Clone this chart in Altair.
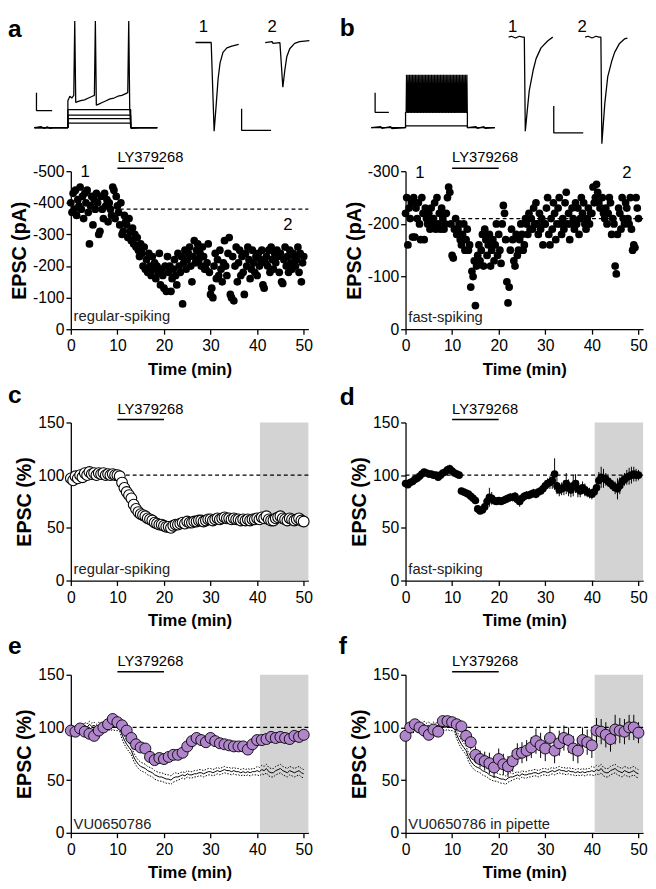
import altair as alt
import pandas as pd

FONT = "Liberation Sans"
W = 242
H = 161
HT = 125
PURPLE = "#B185CB"
BAND = "#d3d3d3"

# ---------------- scatter data (EPSC amplitude, pA) ----------------
STEP_RAW = 0.25  # min between raw sweeps shown
a_vals = [
    -400, -370, -430, -380, -440, -360, -410, -390, -450, -380, -420, -350,
    -430, -400, -440, -370, -270, -390, -420, -330, -410, -380, -430, -400,
    -300, -310, -420, -380, -350, -430, -390, -410, -340, -400, -380, -360,
    -450, -440, -350, -420, -390, -370, -330, -400, -300, -310, -360, -340,
    -330, -290, -350, -310, -280, -320, -270, -300, -260, -290, -250, -230,
    -270, -240, -200, -260, -190, -220, -180, -240, -200, -170, -230, -190,
    -210, -160, -200, -180, -240, -140, -190, -170, -130, -200, -120, -230,
    -180, -200, -120, -160, -190, -220, -170, -140, -240, -200, -180, -230,
    -80, -210, -250, -190, -220, -240, -260, -200, -150, -230, -280, -210,
    -250, -270, -220, -240, -200, -260, -230, -190, -190, -210, -270, -180,
    -110, -130, -100, -200, -240, -160, -220, -170, -250, -190, -150, -210,
    -280, -200, -170, -240, -290, -110, -100, -230, -90, -200, -260, -150,
    -210, -250, -170, -230, -180, -110, -240, -200, -260, -220, -160, -190,
    -250, -210, -180, -230, -170, -240, -200, -220, -250, -140, -130, -210,
    -230, -200, -250, -180, -260, -220, -190, -240, -210, -250, -230, -180,
    -240, -150, -145, -220, -260, -200, -230, -180, -250, -210, -190, -240,
    -230, -200, -220, -260, -180, -240, -150, -210, -230,
]
b_vals = [
    -220, -250, -160, -230, -210, -240, -175, -250, -175, -230, -210, -240,
    -200, -170, -250, -220, -170, -230, -210, -200, -220, -190, -230, -200,
    -210, -240, -190, -250, -200, -220, -190, -230, -210, -190, -200, -220,
    -250, -270, -260, -200, -140, -135, -190, -210, -180, -190, -200, -170,
    -160, -180, -200, -150, -170, -190, -150, -160, -80, -110, -100, -130,
    -45, -120, -140, -160, -130, -150, -180, -120, -190, -170, -140, -160,
    -180, -120, -150, -170, -130, -160, -200, -140, -180, -150, -125, -200,
    -235, -220, -170, -90, -50, -80, -150, -190, -170, -130, -120, -180,
    -140, -150, -170, -200, -180, -150, -160, -210, -200, -180, -220, -190,
    -210, -190, -230, -200, -240, -200, -180, -220, -190, -210, -160, -200,
    -200, -230, -250, -180, -160, -210, -190, -240, -220, -170, -200, -230,
    -250, -200, -180, -210, -190, -240, -260, -200, -220, -170, -200, -230,
    -210, -190, -240, -200, -230, -180, -210, -250, -220, -240, -200, -190,
    -210, -230, -200, -220, -220, -270, -240, -250, -275, -260, -240, -230,
    -230, -250, -220, -210, -230, -200, -220, -250, -240, -180, -210, -200,
    -120, -105, -180, -230, -220, -190, -250, -210, -200, -240, -230, -210,
    -200, -250, -190, -150, -160, -155, -250, -230, -210,
]

# ---------------- averaged data (% of baseline) ----------------
STEP_AVG = 0.5
c_vals = [97, 95, 99, 97, 100, 98, 102, 100, 103, 101,
          102, 100, 102, 101, 102, 100, 101, 100, 101, 100,
          100, 99, 93, 88, 84, 81, 78, 72, 68, 65,
          63, 62, 61, 59, 58, 57, 55, 54, 53, 53,
          52, 51, 51, 50, 52, 53, 53, 54, 55, 54,
          56, 55, 55, 56, 56, 57, 57, 56, 57, 58,
          58, 57, 58, 59, 58, 59, 60, 59, 59, 58,
          59, 58, 58, 57, 58, 57, 58, 57, 58, 58,
          59, 58, 60, 59, 61, 58, 57, 57, 59, 60,
          61, 59, 58, 57, 59, 58, 57, 58, 59, 57,
          56]
ctrl_sem = [3, 3, 3, 3, 3, 3, 3, 3, 3, 3,
            3, 3, 3, 3, 3, 3, 3, 3, 3, 3,
            3, 3, 4, 4, 4, 4, 4, 4, 4, 4,
            4, 4, 4, 4, 4, 4, 4, 4, 4, 4,
            4, 4, 4, 4, 4, 4, 3, 3, 3, 3,
            3, 3, 3, 3, 3, 3, 3, 3, 3, 3,
            3, 3, 3, 3, 3, 3, 3, 3, 3, 3,
            3, 3, 3, 3, 3, 3, 3, 3, 3, 3,
            4, 4, 4, 4, 4, 4, 4, 4, 4, 4,
            4, 4, 4, 4, 4, 4, 4, 4, 4, 4,
            4]
d_vals = [92, 91, 93, 94, 96, 97, 99, 101, 103, 102,
          101, 101, 100, 100, 98, 100, 102, 103, 105, 106,
          104, 102, 101, 100, 85, 84, 83, 82, 80, 78,
          76, 68, 66, 67, 70, 75, 79, 78, 76, 75,
          76, 75, 76, 77, 78, 79, 79, 80, 77, 75,
          78, 80, 81, 81, 82, 83, 82, 84, 85, 87,
          90, 92, 93, 95, 101, 90, 86, 87, 88, 92,
          88, 86, 90, 92, 87, 85, 88, 86, 84, 83,
          82, 84, 88, 95, 98, 97, 96, 94, 92, 90,
          88, 87, 90, 94, 96, 98, 99, 100, 101, 100,
          100]
d_err = [2, 2, 2, 2, 3, 3, 3, 3, 3, 3,
         3, 3, 3, 3, 3, 3, 3, 3, 4, 4,
         3, 3, 3, 3, 3, 3, 3, 3, 3, 3,
         3, 3, 3, 4, 5, 6, 9, 6, 4, 3,
         3, 3, 3, 3, 3, 4, 4, 4, 5, 5,
         4, 4, 4, 4, 4, 4, 4, 4, 4, 5,
         5, 5, 6, 8, 15, 8, 6, 6, 7, 10,
         8, 7, 10, 9, 8, 6, 6, 6, 5, 5,
         5, 5, 6, 8, 10, 9, 6, 5, 5, 5,
         6, 10, 8, 6, 6, 7, 8, 8, 7, 6,
         5]
STEP_MIN = 1.0
e_vals = [97, 96, 99, 96, 94, 92, 97, 100, 103, 108,
          105, 102, 97, 90, 84, 81, 80, 72, 69, 71,
          70, 72, 74, 74, 76, 82, 87, 90, 88, 86,
          90, 87, 85, 84, 83, 82, 82, 82, 79, 84,
          88, 88, 89, 91, 90, 91, 90, 89, 92, 91,
          93]
e_err = [3, 3, 3, 3, 3, 3, 3, 4, 4, 5,
         5, 5, 4, 4, 4, 4, 5, 5, 4, 4,
         4, 4, 4, 4, 4, 5, 5, 5, 5, 4,
         5, 4, 4, 4, 4, 4, 4, 4, 4, 4,
         4, 5, 4, 4, 4, 5, 4, 4, 5, 5,
         4]
f_vals = [92, 100, 103, 100, 97, 93, 98, 96, 106, 106,
          105, 103, 101, 92, 86, 74, 70, 68, 66, 62,
          70, 65, 63, 68, 75, 76, 78, 81, 87, 83,
          80, 90, 78, 85, 90, 88, 80, 78, 88, 86,
          83, 97, 96, 93, 89, 98, 97, 96, 100, 100,
          95]
f_err = [5, 5, 5, 5, 5, 5, 5, 5, 5, 5,
         5, 5, 5, 6, 7, 8, 8, 9, 10, 10,
         10, 10, 10, 10, 10, 10, 10, 10, 12, 12,
         12, 12, 12, 12, 12, 12, 12, 12, 12, 12,
         12, 12, 12, 12, 12, 14, 12, 12, 12, 12,
         10]

# ---------------- example traces (trace units) ----------------
a_step_levels = [5, 10, 14, 20]
a_step_t = [-37, -3, -3, 61, 61, 88]
a_spk_t = [-37, -30, -27, -24, -21, -18, -3, -3, -1, 1, 3, 4, 5, 7, 10, 14, 18,
           22, 24, 25, 26, 28, 32, 36, 40, 44, 48, 52, 56, 58, 59, 60, 61, 62, 70, 88]
a_spk_v = [0, 1, -1, 1, -1, 0, 0, 30, 35, 33, 36, 119, 28, 29, 30, 31, 33,
           35, 36, 119, 25, 26, 28, 30, 32, 33, 35, 36, 38, 39, 119, 22, 0, -1, 0, 0]
a_bar1_t, a_bar1_v = [-35, -35, -19], [39, 19, 19]
a_e1_t = [127, 143, 146, 148, 150, 152, 155, 159, 164, 171]
a_e1_v = [95, 95, -4, 24, 54, 72, 84, 89, 91, 93]
a_e2_t = [198, 205, 206, 213, 216, 218, 220, 223, 228, 233, 243]
a_e2_v = [95, 96, 94, 95, 45, 64, 79, 88, 94, 96, 97]
a_bar2_t, a_bar2_v = [174, 174, 204], [21, -3, -3]
a_lab_t, a_lab_v, a_lab_s = [135, 205], [112, 112], ["1", "2"]

b_sub_t = [-35, -25, -24, -15, -14, 0, 0, 63, 63, 72, 73, 80, 81, 91]
b_sub_v = [0, 1, -1, 1, -1, 0, 2, 2, 0, 1, -1, 1, -1, 0]
b_spike_times = [1, 2.5, 4, 5.5, 7, 8.5, 10, 11.5, 13, 14.5, 16, 17.5, 19, 20.5,
                 22, 23.5, 25, 26.5, 28, 29.5, 31, 32.5, 34, 35.5, 37, 38.5, 40,
                 41.5, 43, 44.5, 46, 47.5, 49, 50.5, 52, 53.5, 55, 56.5, 58, 59.5,
                 61, 62.5]
b_spike_low, b_spike_high = 17, 59
b_bar1_t, b_bar1_v = [-31, -31, -17], [39, 17, 17]
b_e1_t = [105, 108, 112, 116, 119, 121, 122, 124, 126, 130, 133, 138, 145, 150]
b_e1_v = [101, 102, 100, 102, 101, 101, -4, 19, 41, 64, 77, 89, 97, 101]
b_e2_t = [183, 186, 190, 194, 197, 199, 200, 203, 206, 210, 213, 218, 223, 226]
b_e2_v = [101, 102, 100, 102, 101, 101, -18, 27, 57, 74, 84, 94, 99, 100]
b_bar2_t, b_bar2_v = [151, 151, 181], [24, -6, -6]
b_lab_t, b_lab_v, b_lab_s = [109, 180], [112, 112], ["1", "2"]


# ---------------- helpers ----------------
def tr_x():
    return alt.X("t:Q", scale=alt.Scale(domain=[0, W], nice=False, zero=False), axis=None)


def tr_y():
    return alt.Y("v:Q", scale=alt.Scale(domain=[-18, 119], nice=False, zero=False), axis=None)


def trace_panel(segments, lab_t, lab_v, lab_s, letter, letter_x, letter_y):
    rows = []
    for name, (ts, vs) in segments.items():
        for i, (t, v) in enumerate(zip(ts, vs)):
            rows.append({"seg": name, "o": i, "t": t, "v": v})
    df = pd.DataFrame(rows)
    lines = alt.Chart(df).mark_line(color="black", strokeWidth=1.3, strokeJoin="bevel").encode(
        x=tr_x(), y=tr_y(), detail="seg:N", order="o:Q")
    labs = alt.Chart(pd.DataFrame({"t": lab_t, "v": lab_v, "s": lab_s})).mark_text(
        font=FONT, fontSize=17, baseline="middle", color="black").encode(
        x=tr_x(), y=tr_y(), text="s:N")
    let = alt.Chart(pd.DataFrame({"s": [letter]})).mark_text(
        font=FONT, fontSize=25, fontWeight="bold", align="left", baseline="alphabetic",
        color="black").encode(x=alt.value(letter_x), y=alt.value(letter_y), text="s:N")
    return alt.layer(lines, labs, let).properties(width=W, height=HT)


segs_a = {}
for k, lv in enumerate(a_step_levels):
    segs_a[f"step{k}"] = (a_step_t, [0, 0, lv, lv, 0, 0])
segs_a["spk"] = (a_spk_t, a_spk_v)
segs_a["bar1"] = (a_bar1_t, a_bar1_v)
segs_a["e1"] = (a_e1_t, a_e1_v)
segs_a["e2"] = (a_e2_t, a_e2_v)
segs_a["bar2"] = (a_bar2_t, a_bar2_v)

spk_t = [-35, 0, 0]
spk_v = [0, 0, b_spike_low]
for st in b_spike_times:
    spk_t += [st - 0.4, st, st + 0.4]
    spk_v += [b_spike_low, b_spike_high, b_spike_low]
spk_t += [63, 63, 91]
spk_v += [b_spike_low, 0, 0]
segs_b = {
    "sub": (b_sub_t, b_sub_v),
    "spk": (spk_t, spk_v),
    "bar1": (b_bar1_t, b_bar1_v),
    "e1": (b_e1_t, b_e1_v),
    "e2": (b_e2_t, b_e2_v),
    "bar2": (b_bar2_t, b_bar2_v),
}

trace_a = trace_panel(segs_a, a_lab_t, a_lab_v, a_lab_s, "a", -64, 16)
trace_b = trace_panel(segs_b, b_lab_t, b_lab_v, b_lab_s, "b", -67, 15)


def X():
    return alt.X("t:Q", scale=alt.Scale(domain=[0, 51], nice=False, zero=False),
                 axis=alt.Axis(values=[0, 10, 20, 30, 40, 50], title="Time (min)",
                               labelFlush=False))


def X2():
    return alt.X2("t2:Q")


def Y(domain, values, title, neg=False):
    if neg:
        ax = alt.Axis(values=values, title=title,
                      labelExpr="datum.value < 0 ? '-' + abs(datum.value) : '' + datum.value")
        sc = alt.Scale(domain=domain, nice=False, zero=False, reverse=True)
    else:
        ax = alt.Axis(values=values, title=title)
        sc = alt.Scale(domain=domain, nice=False, zero=False)
    return alt.Y("v:Q", scale=sc, axis=ax)


def common_layers(y, dash_v, dash_start, cond_text, cond_v, letter, letter_x, letter_y):
    dash = alt.Chart(pd.DataFrame({"t": [dash_start], "t2": [51], "v": [dash_v]})).mark_rule(
        color="black", strokeWidth=1.2, strokeDash=[4, 3]).encode(x=X(), x2=X2(), y=y)
    ly_bar = alt.Chart(pd.DataFrame({"t": [10], "t2": [20]})).mark_rule(
        color="black", strokeWidth=1.5).encode(x=X(), x2=X2(), y=alt.value(-3))
    ly_txt = alt.Chart(pd.DataFrame({"t": [10], "s": ["LY379268"]})).mark_text(
        font=FONT, fontSize=15, align="left", baseline="alphabetic", color="black").encode(
        x=X(), y=alt.value(-9), text="s:N")
    cond = alt.Chart(pd.DataFrame({"t": [0.6], "v": [cond_v], "s": [cond_text]})).mark_text(
        font=FONT, fontSize=15, align="left", baseline="alphabetic", color="#222222").encode(
        x=X(), y=y, text="s:N")
    let = alt.Chart(pd.DataFrame({"s": [letter]})).mark_text(
        font=FONT, fontSize=25, fontWeight="bold", align="left", baseline="alphabetic",
        color="black").encode(x=alt.value(letter_x), y=alt.value(letter_y), text="s:N")
    return dash, [ly_bar, ly_txt, cond, let]


def band_layer(y):
    return alt.Chart(pd.DataFrame({"t": [40.6], "t2": [51], "v": [0], "v2": [150]})).mark_rect(
        color=BAND).encode(x=X(), x2=X2(), y=y, y2=alt.Y2("v2:Q"))


# ---- panel a ----
ya = Y([-500, 0], [-500, -400, -300, -200, -100, 0], "EPSC (pA)", neg=True)
df_a = pd.DataFrame({"t": [i * STEP_RAW for i in range(len(a_vals))], "v": a_vals})
pts_a = alt.Chart(df_a).mark_circle(size=62, color="black", opacity=1).encode(x=X(), y=ya)
dash_a, ann_a = common_layers(ya, -380, 10.5, "regular-spiking", -25, "a", -64, -200)
num_a = alt.Chart(pd.DataFrame({"t": [3.1, 46.6], "v": [-498, -329], "s": ["1", "2"]})).mark_text(
    font=FONT, fontSize=17, baseline="middle", color="black").encode(x=X(), y=ya, text="s:N")
panel_a = alt.layer(dash_a, pts_a, num_a, *ann_a[:3]).properties(width=W, height=H)

# ---- panel b ----
yb = Y([-300, 0], [-300, -200, -100, 0], "EPSC (pA)", neg=True)
df_b = pd.DataFrame({"t": [i * STEP_RAW for i in range(len(b_vals))], "v": b_vals})
pts_b = alt.Chart(df_b).mark_circle(size=62, color="black", opacity=1).encode(x=X(), y=yb)
dash_b, ann_b = common_layers(yb, -210, 12, "fast-spiking", -14, "b", -67, -200)
num_b = alt.Chart(pd.DataFrame({"t": [3.1, 47.5], "v": [-296, -296], "s": ["1", "2"]})).mark_text(
    font=FONT, fontSize=17, baseline="middle", color="black").encode(x=X(), y=yb, text="s:N")
panel_b = alt.layer(dash_b, pts_b, num_b, *ann_b[:3]).properties(width=W, height=H)

ypc = Y([0, 150], [0, 50, 100, 150], "EPSC (%)")

# ---- panel c ----
df_c = pd.DataFrame({"t": [i * STEP_AVG for i in range(len(c_vals))], "v": c_vals})
pts_c = alt.Chart(df_c).mark_point(filled=True, fill="white", stroke="black", strokeWidth=1.1,
                                   size=120, opacity=1, shape="circle").encode(x=X(), y=ypc)
dash_c, ann_c = common_layers(ypc, 100, 0, "regular-spiking", 6, "c", -64, -20)
panel_c = alt.layer(band_layer(ypc), dash_c, pts_c, *ann_c).properties(width=W, height=H)

# ---- panel d ----
df_d = pd.DataFrame({"t": [i * STEP_AVG for i in range(len(d_vals))], "v": d_vals,
                     "lo": [v - e for v, e in zip(d_vals, d_err)],
                     "hi": [v + e for v, e in zip(d_vals, d_err)]})
err_d = alt.Chart(df_d).mark_rule(color="black", strokeWidth=1).encode(
    x=X(), y=alt.Y("lo:Q", scale=alt.Scale(domain=[0, 150], nice=False, zero=False),
                   axis=alt.Axis(values=[0, 50, 100, 150], title="EPSC (%)")),
    y2=alt.Y2("hi:Q"))
pts_d = alt.Chart(df_d).mark_circle(size=60, color="black", opacity=1).encode(x=X(), y=ypc)
dash_d, ann_d = common_layers(ypc, 100, 0, "fast-spiking", 6, "d", -67, -18)
panel_d = alt.layer(band_layer(ypc), dash_d, err_d, pts_d, *ann_d).properties(width=W, height=H)


# ---- panels e, f ----
def ctrl_layers():
    t = [i * STEP_AVG for i in range(len(c_vals))]
    df = pd.DataFrame({
        "t": t * 3,
        "v": c_vals + [v + s for v, s in zip(c_vals, ctrl_sem)] + [v - s for v, s in zip(c_vals, ctrl_sem)],
        "k": ["mean"] * len(t) + ["hi"] * len(t) + ["lo"] * len(t),
    })
    mean = alt.Chart(df).transform_filter("datum.k == 'mean'").mark_line(
        color="black", strokeWidth=1).encode(x=X(), y=ypc)
    sem = alt.Chart(df).transform_filter("datum.k != 'mean'").mark_line(
        color="black", strokeWidth=1, strokeDash=[1.5, 1.5]).encode(x=X(), y=ypc, detail="k:N")
    return [mean, sem]


def purple_panel(vals, errs, text, letter, letter_x):
    df = pd.DataFrame({"t": [i * STEP_MIN for i in range(len(vals))], "v": vals,
                       "lo": [v - e for v, e in zip(vals, errs)],
                       "hi": [v + e for v, e in zip(vals, errs)]})
    err = alt.Chart(df).mark_rule(color="black", strokeWidth=1).encode(
        x=X(), y=alt.Y("lo:Q", scale=alt.Scale(domain=[0, 150], nice=False, zero=False),
                       axis=alt.Axis(values=[0, 50, 100, 150], title="EPSC (%)")),
        y2=alt.Y2("hi:Q"))
    pts = alt.Chart(df).mark_point(filled=True, fill=PURPLE, stroke="black", strokeWidth=0.9,
                                   size=125, opacity=1, shape="circle").encode(x=X(), y=ypc)
    dash, ann = common_layers(ypc, 100, 0, text, 4, letter, letter_x, -21)
    return alt.layer(band_layer(ypc), dash, *ctrl_layers(), err, pts, *ann).properties(width=W, height=H)


panel_e = purple_panel(e_vals, e_err, "VU0650786", "e", -64)
panel_f = purple_panel(f_vals, f_err, "VU0650786 in pipette", "f", -68)

chart = alt.concat(
    trace_a, trace_b, panel_a, panel_b, panel_c, panel_d, panel_e, panel_f,
    columns=2, spacing={"row": 6, "column": 26},
).properties(padding=0).configure_view(stroke=None).configure_axis(
    domainColor="black", tickColor="black", labelColor="black", titleColor="black",
    labelFont=FONT, titleFont=FONT, labelFontSize=16, grid=False, tickSize=5,
    domainWidth=1.3, tickWidth=1.3, labelPadding=2, titleFontWeight="bold",
).configure_axisX(titleFontSize=17, titlePadding=8, labelPadding=4).configure_axisY(
    titleFontSize=20, titlePadding=3)

chart.save("out.html", embed_options={"renderer": "svg", "actions": False})
